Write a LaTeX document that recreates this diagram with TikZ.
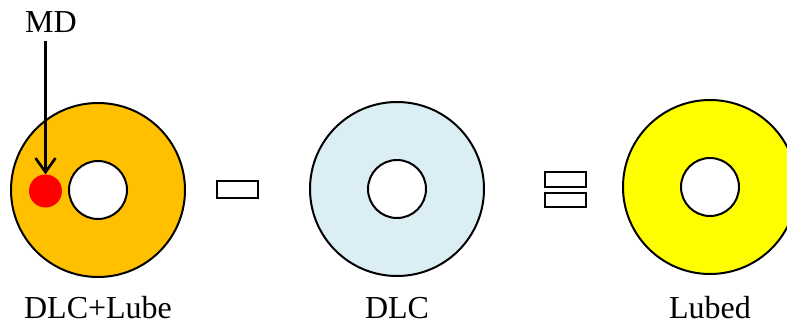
\documentclass[tikz,border=0pt]{standalone}
\usepackage{fontspec}
\setmainfont{Liberation Serif}
\usetikzlibrary{arrows.meta}
\definecolor{lubeorange}{HTML}{FFC000}
\definecolor{dlcblue}{HTML}{DAEEF3}
\definecolor{lubedyellow}{HTML}{FFFF00}

\begin{document}
\begin{tikzpicture}[x=1pt, y=-1pt,
  disk/.style={circle, draw=black, line width=2pt, minimum size=174pt, inner sep=0pt},
  hole/.style={circle, draw=black, line width=2pt, fill=white, minimum size=58pt, inner sep=0pt},
  bar/.style={rectangle, draw=black, line width=2pt, minimum width=41pt, inner sep=0pt},
  lbl/.style={font=\fontsize{32}{38}\selectfont, inner sep=0pt, anchor=base}]
\useasboundingbox (0,0) rectangle (787,324);
% three disks: ring, centre hole and caption
\foreach \nm/\cx/\cy/\col/\txt in {lube/98/190/lubeorange/DLC+Lube, dlc/397/189/dlcblue/DLC, lubed/710/187/lubedyellow/Lubed}{
  \node[disk, fill=\col] (\nm) at (\cx,\cy) {};
  \node[hole] (\nm hole) at (\nm) {};
  \node[lbl] (\nm text) at (\cx,318) {\txt};
}

% minus and equals signs
\node[bar, minimum height=17pt] (minus) at (237.5,189.5) {};
\node[bar, minimum height=15pt] (equalstop) at (565,179.5) {};
\node[bar, minimum height=14pt] (equalsbot) at (565,200) {};

% MD spot with its pointer
\node[circle, fill=red, minimum size=33pt, inner sep=0pt] (md) at (45.5,191) {};
\node[lbl] (mdtext) at (51,32) {MD};
\draw[-{Straight Barb[length=14pt,width=20pt]}, line width=2.6pt, shorten <=9pt] (mdtext.south -| md.north) -- (md.north);
\end{tikzpicture}
\end{document}
